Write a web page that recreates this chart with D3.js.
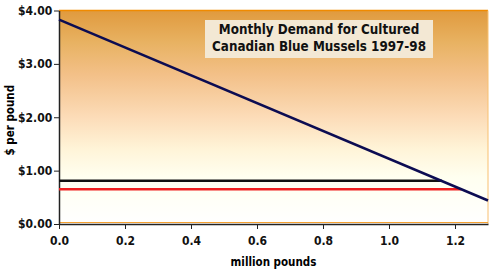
<!DOCTYPE html>
<html>
<head>
<meta charset="utf-8">
<script src="https://cdn.jsdelivr.net/npm/d3@7"></script>
<style>
  body { margin: 0; background: #fff; }
  text { font-family: "DejaVu Sans Condensed", "Liberation Sans Narrow", sans-serif; font-weight: bold; }
</style>
</head>
<body>
<div id="chart"></div>
<script>
// demand curve endpoints (million pounds, $/lb)
const demandX = [0, 1.3];
const demandY = [3.83, 0.44];
// price levels
const blackLine = { y: 0.81, x: [0, 1.16] };
const redLine = { y: 0.65, x: [0, 1.22] };
const xTicks = [0, 0.2, 0.4, 0.6, 0.8, 1.0, 1.2];
const yTicks = [0, 1, 2, 3, 4];
const titleLines = ["Monthly Demand for Cultured", "Canadian Blue Mussels 1997-98"];

const width = 495, height = 273;
const margin = { top: 10.5, right: 7, bottom: 49, left: 59 };

const svg = d3.select("#chart").append("svg")
    .attr("width", width)
    .attr("height", height);

const x = d3.scaleLinear().domain([0, 1.3]).range([margin.left, width - margin.right]);
const y = d3.scaleLinear().domain([0, 4]).range([height - margin.bottom, margin.top]);

const defs = svg.append("defs");
const grad = defs.append("linearGradient")
    .attr("id", "bg")
    .attr("x1", 0).attr("y1", 0).attr("x2", 0).attr("y2", 1);
[
    [0, "#e09a3e"],
    [0.15, "#e8b262"],
    [0.3, "#f3c088"],
    [0.5, "#fcdcb8"],
    [0.65, "#fff4d8"],
    [0.78, "#fffff0"],
    [1, "#ffffff"]
].forEach(s => grad.append("stop").attr("offset", s[0]).attr("stop-color", s[1]));

svg.append("rect")
    .attr("x", x(0))
    .attr("y", y(4))
    .attr("width", x(1.3) - x(0))
    .attr("height", y(0) - y(4))
    .attr("fill", "url(#bg)");

// frame
svg.append("line")
    .attr("x1", x(0)).attr("x2", x(1.3))
    .attr("y1", y(4)).attr("y2", y(4))
    .attr("stroke", "#f08a00").attr("stroke-width", 1.5);
svg.append("line")
    .attr("x1", x(1.3)).attr("x2", x(1.3))
    .attr("y1", y(4)).attr("y2", y(0))
    .attr("stroke", "#f8c070").attr("stroke-width", 1);
svg.append("line")
    .attr("x1", x(0)).attr("x2", x(1.3))
    .attr("y1", y(0) - 1.5).attr("y2", y(0) - 1.5)
    .attr("stroke", "#f5a030").attr("stroke-width", 1);

// axes
const xAxis = svg.append("g")
    .attr("transform", `translate(0,${y(0)})`)
    .call(d3.axisBottom(x).tickValues(xTicks).tickFormat(d3.format(".1f")).tickSize(5).tickSizeOuter(0));
const yAxis = svg.append("g")
    .attr("transform", `translate(${x(0)},0)`)
    .call(d3.axisLeft(y).tickValues(yTicks).tickFormat(d => "$" + d3.format(".2f")(d)).tickSize(5).tickSizeOuter(0));

[xAxis, yAxis].forEach(g => {
    g.select(".domain").attr("stroke", "#222").attr("stroke-width", 1.5);
    g.selectAll(".tick line").attr("stroke", "#222");
    g.selectAll(".tick text").attr("fill", "#111").style("font-size", "12px");
});
xAxis.selectAll(".tick text").attr("dy", "1.05em");
yAxis.selectAll(".tick text").attr("dx", "0.1em");

// price lines
svg.append("line")
    .attr("x1", x(blackLine.x[0])).attr("x2", x(blackLine.x[1]))
    .attr("y1", y(blackLine.y)).attr("y2", y(blackLine.y))
    .attr("stroke", "#111").attr("stroke-width", 2.5);
svg.append("line")
    .attr("x1", x(redLine.x[0])).attr("x2", x(redLine.x[1]))
    .attr("y1", y(redLine.y)).attr("y2", y(redLine.y))
    .attr("stroke", "#f02020").attr("stroke-width", 2.5);

// demand
svg.append("path")
    .datum(demandX.map((d, i) => [d, demandY[i]]))
    .attr("d", d3.line().x(d => x(d[0])).y(d => y(d[1])))
    .attr("fill", "none")
    .attr("stroke", "#0c0c52")
    .attr("stroke-width", 2.5);

// title box
svg.append("rect")
    .attr("x", 205).attr("y", 20)
    .attr("width", 228).attr("height", 38)
    .attr("fill", "#f3e8d4");
svg.selectAll(".title").data(titleLines).join("text")
    .attr("class", "title")
    .attr("x", 319)
    .attr("y", (d, i) => 33.5 + i * 17)
    .attr("text-anchor", "middle")
    .style("font-size", "13.3px")
    .attr("fill", "#111")
    .text(d => d);

// axis titles
svg.append("text")
    .attr("x", (x(0) + x(1.3)) / 2)
    .attr("y", 266)
    .attr("text-anchor", "middle")
    .style("font-size", "11.5px")
    .text("million pounds");
svg.append("text")
    .attr("transform", `translate(14,${(y(0) + y(4)) / 2 + 3}) rotate(-90)`)
    .attr("text-anchor", "middle")
    .style("font-size", "11.5px")
    .text("$ per pound");
</script>
</body>
</html>
